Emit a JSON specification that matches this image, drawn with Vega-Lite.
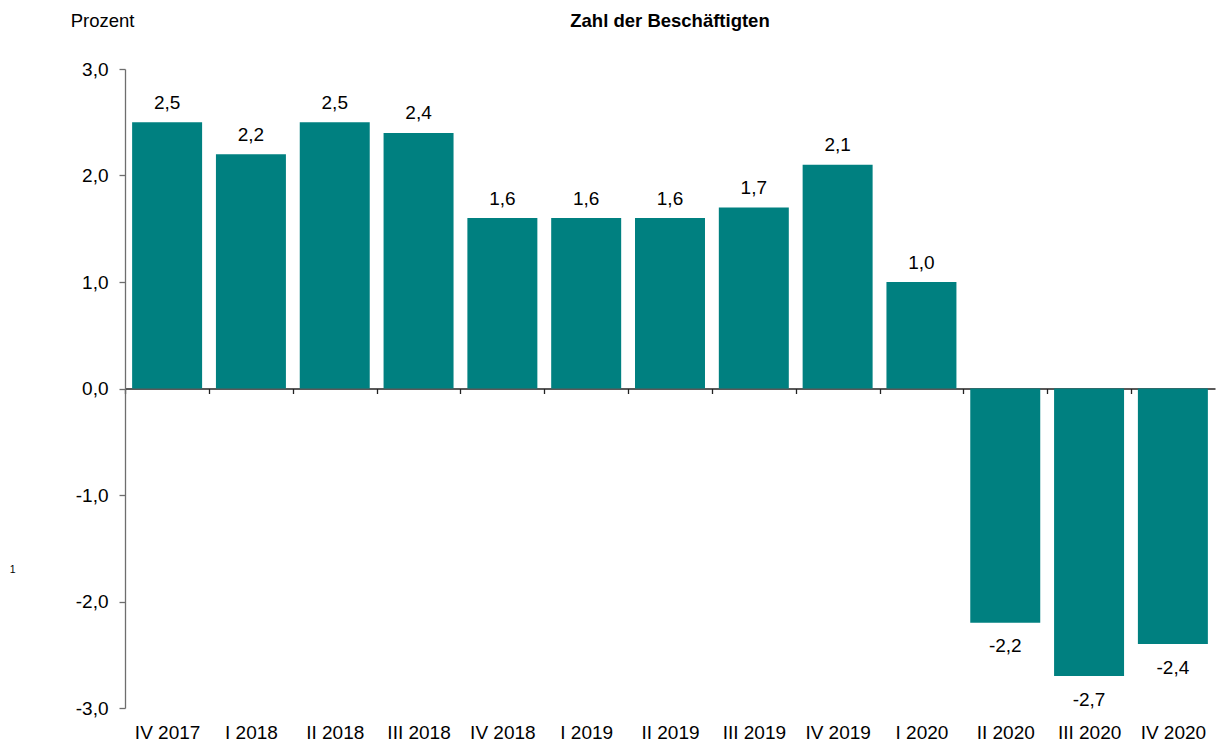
{
  "$schema": "https://vega.github.io/schema/vega-lite/v6.json",
  "width": 1090,
  "height": 639,
  "autosize": {"type": "none"},
  "padding": {"left": 125, "top": 69, "right": 1, "bottom": 36},
  "background": "white",
  "config": {"view": {"stroke": null}},
  "title": {
    "text": "Zahl der Beschäftigten",
    "font": "Liberation Sans",
    "fontSize": 18.5,
    "fontWeight": "bold",
    "color": "#000000",
    "anchor": "middle",
    "frame": "group",
    "baseline": "alphabetic",
    "offset": -16,
    "dy": 18
  },
  "data": {
    "values": [
      {"q": "IV 2017", "v": 2.5, "label": "2,5"},
      {"q": "I 2018", "v": 2.2, "label": "2,2"},
      {"q": "II 2018", "v": 2.5, "label": "2,5"},
      {"q": "III 2018", "v": 2.4, "label": "2,4"},
      {"q": "IV 2018", "v": 1.6, "label": "1,6"},
      {"q": "I 2019", "v": 1.6, "label": "1,6"},
      {"q": "II 2019", "v": 1.6, "label": "1,6"},
      {"q": "III 2019", "v": 1.7, "label": "1,7"},
      {"q": "IV 2019", "v": 2.1, "label": "2,1"},
      {"q": "I 2020", "v": 1.0, "label": "1,0"},
      {"q": "II 2020", "v": -2.2, "label": "-2,2"},
      {"q": "III 2020", "v": -2.7, "label": "-2,7"},
      {"q": "IV 2020", "v": -2.4, "label": "-2,4"}
    ]
  },
  "encoding": {
    "x": {
      "field": "q",
      "type": "nominal",
      "sort": null,
      "title": null,
      "scale": {"paddingInner": 0.165, "paddingOuter": 0.085},
      "axis": {
        "orient": "bottom",
        "offset": -319.5,
        "labelAngle": 0,
        "labelFont": "Liberation Sans",
        "labelFontSize": 19,
        "labelColor": "#000000",
        "labelBaseline": "alphabetic",
        "labelPadding": 345,
        "labelOffset": 41.9,
        "tickSize": 5,
        "tickOffset": -41.9,
        "tickColor": "#222222",
        "tickWidth": 1.3,
        "domainColor": "#222222",
        "domainWidth": 1.3,
        "grid": false
      }
    },
    "y": {
      "field": "v",
      "type": "quantitative",
      "scale": {"domain": [-3, 3], "nice": false, "zero": false},
      "axis": {
        "values": [-3, -2, -1, 0, 1, 2, 3],
        "labelExpr": "replace(replace(format(datum.value, '.1f'), '.', ','), '\u2212', '-')",
        "labelFont": "Liberation Sans",
        "labelFontSize": 19,
        "labelColor": "#000000",
        "labelPadding": 11,
        "tickSize": 6,
        "tickColor": "#6e6e6e",
        "tickWidth": 1.3,
        "domainColor": "#6e6e6e",
        "domainWidth": 1.3,
        "grid": false,
        "title": "Prozent",
        "titleFont": "Liberation Sans",
        "titleFontSize": 18.5,
        "titleFontWeight": "normal",
        "titleColor": "#000000",
        "titleAngle": 0,
        "titleAlign": "center",
        "titleBaseline": "alphabetic",
        "titleX": -23,
        "titleY": -43
      }
    }
  },
  "layer": [
    {
      "mark": {"type": "bar", "color": "#008080"}
    },
    {
      "transform": [{"filter": "datum.v >= 0"}],
      "mark": {"type": "text", "font": "Liberation Sans", "fontSize": 19, "color": "#000000", "baseline": "alphabetic", "dy": -13.5},
      "encoding": {"text": {"field": "label"}}
    },
    {
      "transform": [{"filter": "datum.v < 0"}],
      "mark": {"type": "text", "font": "Liberation Sans", "fontSize": 19, "color": "#000000", "baseline": "alphabetic", "dy": 29.5},
      "encoding": {"text": {"field": "label"}}
    },
    {
      "data": {"values": [{"q": "IV 2017", "v": -1.7, "label": "1"}]},
      "mark": {"type": "text", "font": "Liberation Sans", "fontSize": 10.5, "color": "#000000", "baseline": "middle", "dx": -154.5},
      "encoding": {"text": {"field": "label"}}
    }
  ]
}
